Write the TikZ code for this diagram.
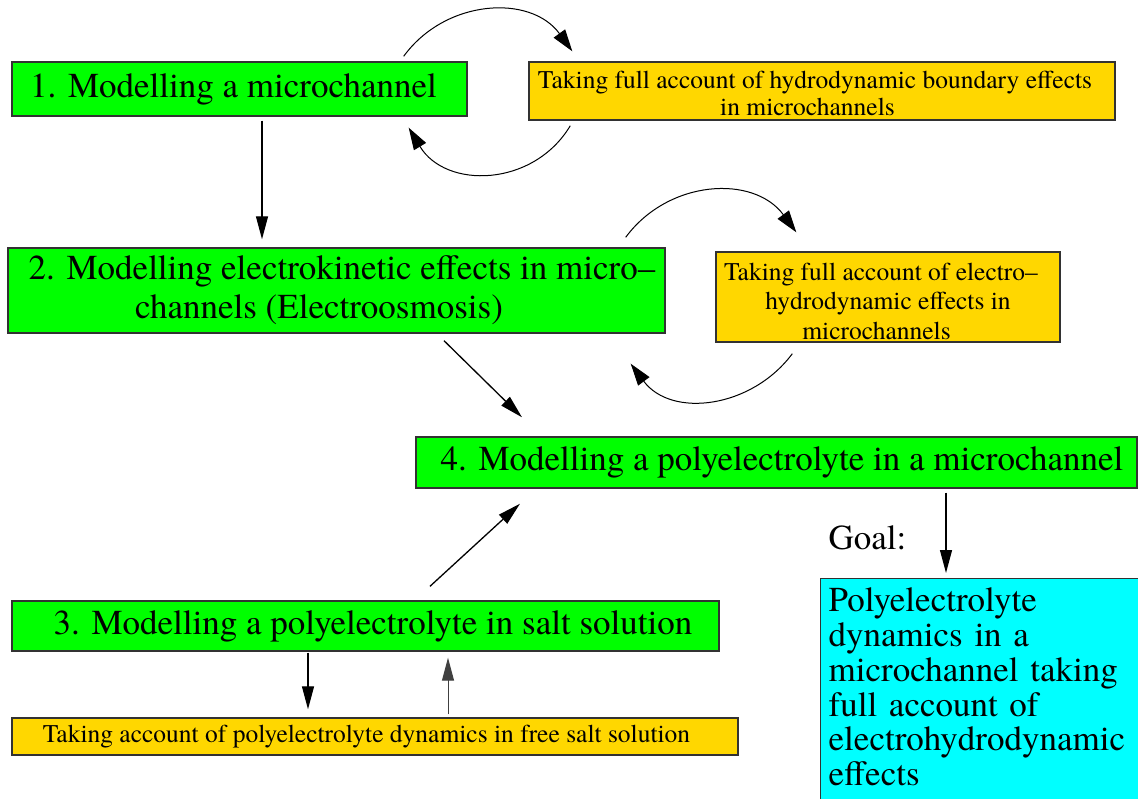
\documentclass[tikz,border=0pt]{standalone}
\usepackage{fontspec}
\setmainfont{texgyretermes}[Extension=.otf,UprightFont=*-regular,BoldFont=*-bold,ItalicFont=*-italic,BoldItalicFont=*-bolditalic]
\usetikzlibrary{arrows.meta}
\definecolor{bgreen}{RGB}{0,255,0}
\definecolor{bgold}{RGB}{255,215,0}
\definecolor{bcyan}{RGB}{0,255,255}
\definecolor{edge}{RGB}{50,50,50}
\newcommand{\hs}[1]{\hspace*{#1pt}}
\begin{document}
\begin{tikzpicture}[x=1pt,y=-1pt,
  box/.style={draw=edge,line width=1.4pt,inner sep=0pt,align=center},
  big/.style={font=\fontsize{35}{39}\selectfont},
  small/.style={font=\fontsize{25.5}{27}\selectfont},
  arr/.style={line width=1.3pt,-{Triangle[length=23pt,width=12pt]}},
  carr/.style={line width=1pt,-{Triangle[length=22pt,width=14pt]}}]
\useasboundingbox (0,0) rectangle (1138,799);

\node[box,big,fill=bgreen,minimum width=455pt,minimum height=54pt] (b1) at (239.5,89) {1. Modelling a microchannel\hs{12}};
\node[box,small,fill=bgold,minimum width=586pt,minimum height=58pt] (y1) at (822,91) {\rule{0pt}{22pt}Taking full account of hydrodynamic boundary effects\hs{14}\\in microchannels\hs{29}};
\node[box,big,fill=bgreen,minimum width=657pt,minimum height=85pt] (b2) at (336.5,290.5) {\hs{11}2. Modelling electrokinetic effects in micro–\\channels (Electroosmosis)\hs{35}};
\node[box,fill=bgold,font=\fontsize{25.5}{29.5}\selectfont,minimum width=344pt,minimum height=90pt] (y2) at (888,297) {\rule{0pt}{26pt}Taking full account of electro–\hs{14}\\hydrodynamic effects in\hs{33}\\microchannels\hs{23}};
\node[box,big,fill=bgreen,minimum width=721pt,minimum height=51pt] (b4) at (776.5,462.5) {\hs{11}4. Modelling a polyelectrolyte in a microchannel};
\node[box,big,fill=bgreen,minimum width=707pt,minimum height=50pt] (b3) at (365.5,626) {\hs{15}3. Modelling a polyelectrolyte in salt solution};
\node[box,small,fill=bgold,minimum width=726pt,minimum height=37pt] (y3) at (375,736.5) {Taking account of polyelectrolyte dynamics in free salt solution\hs{17}};
\node[big] (goallbl) at (867.5,538) {Goal:};
\node[box,fill=bcyan,anchor=north west,align=left,text width=305pt,inner xsep=8pt,inner ysep=9pt,text depth=200pt,font=\fontsize{35}{34.8}\selectfont] (goal) at (820,578) {Polyelectrolyte\\dynamics in a\\microchannel taking\\full account of\\electrohydrodynamic\\effects};

% straight arrows
\draw[arr] ([xshift=22.5pt,yshift=-4pt]b1.south) -- ([xshift=-74.5pt,yshift=8pt]b2.north);
\draw[arr] ([xshift=107.5pt,yshift=-7pt]b2.south) -- ([xshift=-254.5pt,yshift=19pt]b4.north);
\draw[arr] ([xshift=64.5pt,yshift=14pt]b3.north) -- ([xshift=-256.5pt,yshift=-15pt]b4.south);
\draw[arr] ([xshift=169.5pt,yshift=-4pt]b4.south) -- ([xshift=126pt,yshift=5pt]goal.north west);
\draw[arr] ([xshift=-57.5pt,yshift=-1pt]b3.south) -- ([xshift=-67pt,yshift=8pt]y3.north);
\draw[arr,line width=1pt,draw=black!75] ([xshift=73pt,yshift=3pt]y3.north) -- ([xshift=82.5pt,yshift=-6pt]b3.south);

% curved arrows
\draw[carr] ([xshift=-64pt,yshift=5pt]b1.north east) .. controls +(41.7,-57.4) and +(-41.7,-57.4) .. ([xshift=44pt,yshift=10pt]y1.north west);
\draw[carr] ([xshift=42pt,yshift=-5pt]y1.south west) .. controls +(-37,61.7) and +(37,61.7) .. ([xshift=-59pt,yshift=-11pt]b1.south east);
\draw[carr] ([xshift=-40pt,yshift=10pt]b2.north east) .. controls +(42.7,-57.9) and +(-42.7,-57.9) .. ([xshift=81pt,yshift=19pt]y2.north west);
\draw[carr] ([xshift=77pt,yshift=-11pt]y2.south west) .. controls +(-40.7,54.7) and +(40.7,54.7) .. ([xshift=-35pt,yshift=-30pt]b2.south east);
\end{tikzpicture}
\end{document}
